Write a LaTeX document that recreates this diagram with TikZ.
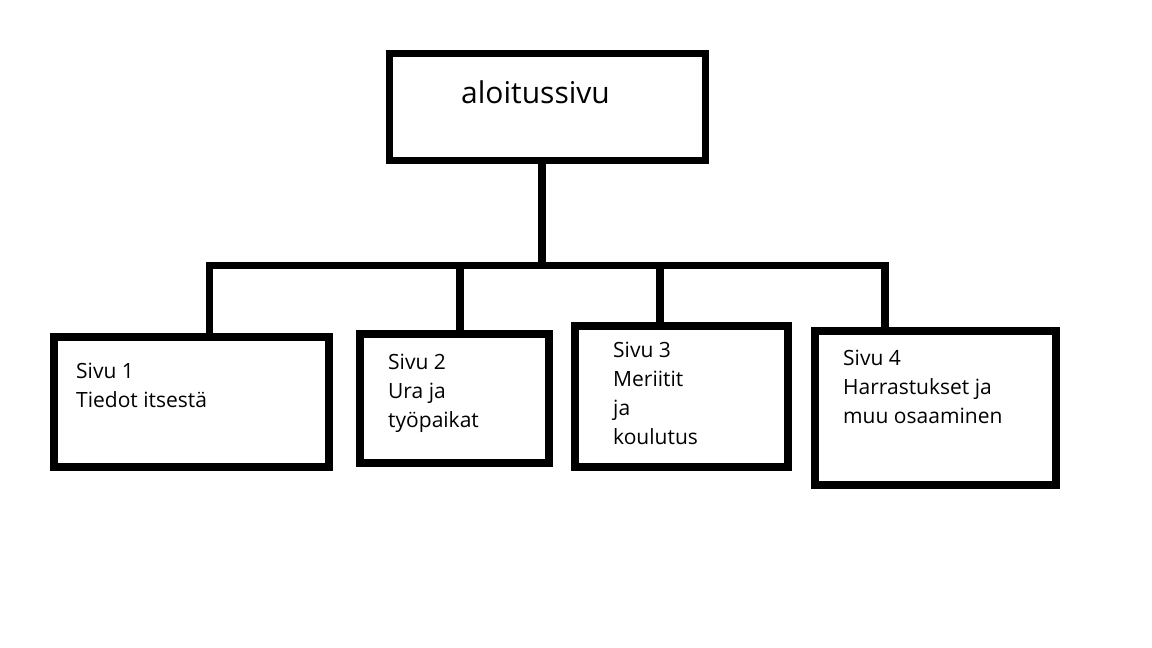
\documentclass[tikz,border=0pt]{standalone}
\usepackage{fontspec}
\setmainfont{Open Sans}
\usepackage{tikz}
\tikzset{>=latex}
\tikzset{page/.style={draw, line width=7.5pt, inner sep=0pt},
  pagetext/.style={anchor=base west, inner sep=0pt, align=left,
    font=\fontsize{21pt}{29pt}\selectfont}}

\begin{document}
\begin{tikzpicture}[x=1pt, y=-1pt]
      \useasboundingbox (0,0) rectangle (1152,648);
      \node[page, minimum width=316pt, minimum height=107pt] (start) at (547.5,107) {};
      \node[page, minimum width=275pt, minimum height=130pt] (s1) at (191.5,402) {};
      \node[page, minimum width=189pt, minimum height=129pt] (s2) at (454.5,398.5) {};
      \node[page, minimum width=213pt, minimum height=141pt] (s3) at (681.5,396.5) {};
      \node[page, minimum width=241pt, minimum height=154pt] (s4) at (935.5,408) {};
      \node[anchor=base west, inner sep=0pt, font=\fontsize{30pt}{38pt}\selectfont] (title) at (461,103) {aloitussivu};
      \node[pagetext] (t1) at (76,407) {Sivu 1\\Tiedot itsestä};
      \node[pagetext] (t2) at (388,427) {Sivu 2\\Ura ja\\työpaikat};
      \node[pagetext] (t3) at (613,444) {Sivu 3\\Meriitit\\ja\\koulutus};
      \node[pagetext] (t4) at (843,423) {Sivu 4\\Harrastukset ja\\muu osaaminen};
      \coordinate (m) at (542,265.5);
      \coordinate (d1) at (209.5,265.5);
      \coordinate (d2) at (460,265.5);
      \coordinate (d3) at (660,265.5);
      \coordinate (d4) at (885,265.5);
      \draw[line width=7.5pt] (m |- start.south) -- (m);
      \draw[line width=7.5pt, line cap=rect] (d1) -- (d4);
      \draw[line width=7.5pt] (d1) -- (d1 |- s1.north);
      \draw[line width=7.5pt] (d2) -- (d2 |- s2.north);
      \draw[line width=7.5pt] (d3) -- (d3 |- s3.north);
      \draw[line width=7.5pt] (d4) -- (d4 |- s4.north);
    \end{tikzpicture}
\end{document}
